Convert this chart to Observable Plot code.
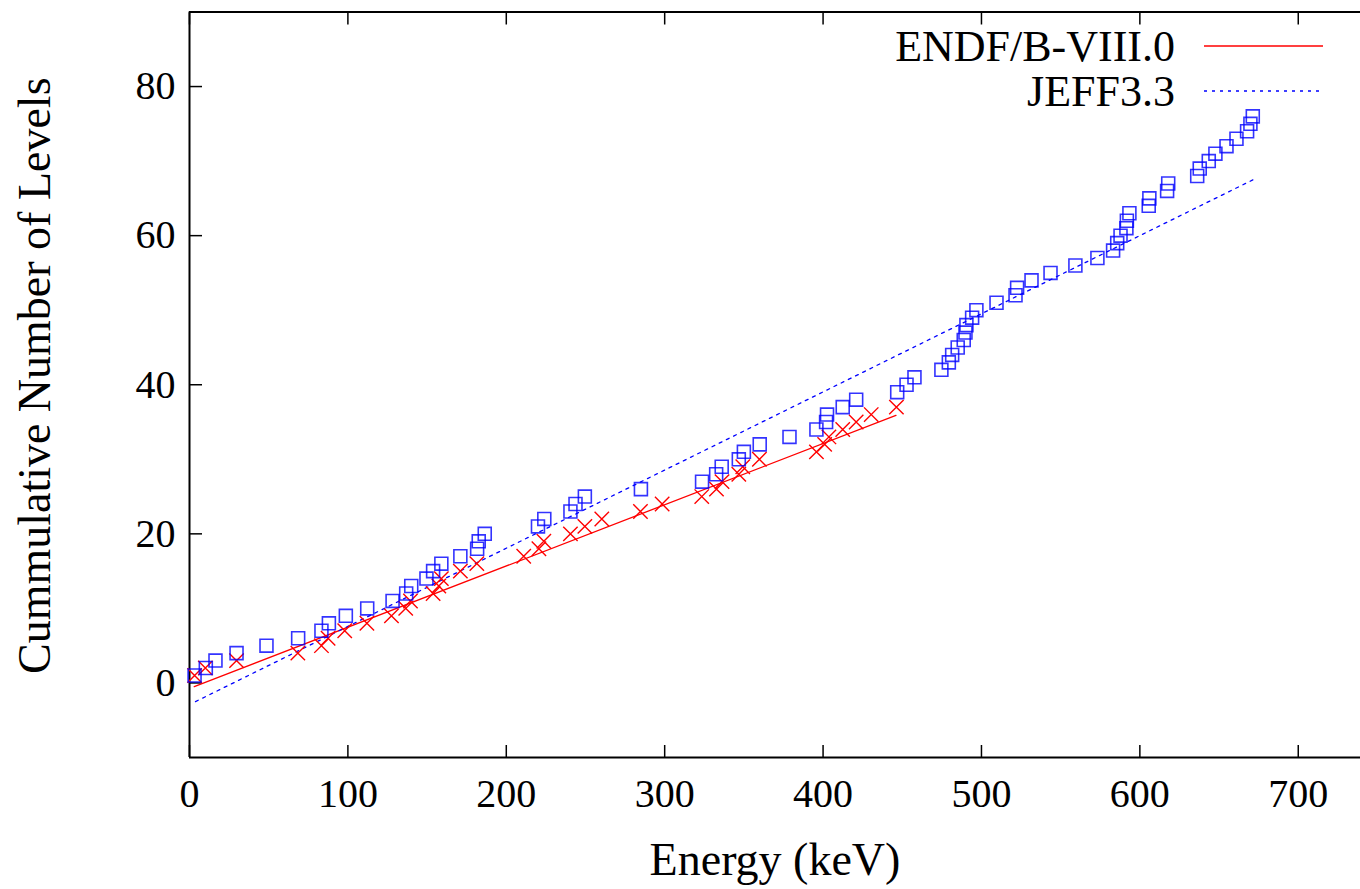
<!DOCTYPE html>
<html><head><meta charset="utf-8">
<script src="https://cdn.jsdelivr.net/npm/d3@7"></script>
<script src="https://cdn.jsdelivr.net/npm/@observablehq/plot@0.6"></script>
<style>
body{margin:0;background:#fff}
#wrap{position:relative;width:1360px;height:889px;overflow:hidden}
#wrap svg{display:block}
#legend{position:absolute;left:0;top:0}
</style>
</head><body><div id="wrap"></div>
<script>
// ENDF/B-VIII.0 resonance energies (keV) and cumulative counts
const endfE = [3.2, 10, 29.7, 68.4, 83.3, 87.5, 98, 112, 127.5, 136.5, 139.5, 153.8, 157.4, 159, 171, 181.4, 211, 220.6, 223.7, 240.5, 249.6, 260.3, 284.7, 298.4, 323.4, 332.7, 336.2, 346.8, 349.3, 359.8, 395.8, 401, 403.7, 412.4, 420.9, 430.4, 446.3];
const endfN = [1, 2, 3, 4, 5, 6, 7, 8, 9, 10, 11, 12, 13, 14, 15, 16, 17, 18, 19, 20, 21, 22, 23, 24, 25, 26, 27, 28, 29, 30, 31, 32, 33, 34, 35, 36, 37];
// JEFF3.3 resonance energies (keV) and cumulative counts
const jeffE = [3.2, 10.3, 16.4, 29.7, 48.6, 68.6, 83.3, 88, 98.7, 112.2, 128.2, 136.8, 140, 149.6, 153.8, 159, 171, 181.6, 182.6, 186.4, 220, 224, 240.5, 243.7, 249.6, 285, 323.6, 332.5, 336, 346.8, 350, 360, 378.8, 395.8, 401.9, 402.5, 412.4, 420.9, 446.8, 452.7, 457.7, 474.7, 479.4, 481.5, 485, 488.8, 489.9, 490.5, 494.1, 496.8, 509.5, 521.5, 522.5, 531.6, 543.6, 559.3, 573.2, 583.1, 585.7, 587.8, 591.5, 591.8, 593.4, 605.6, 606, 617.2, 617.9, 636.2, 637.8, 643.5, 647.7, 654.7, 661, 667.7, 669.8, 671.3];
const jeffN = [1, 2, 3, 4, 5, 6, 7, 8, 9, 10, 11, 12, 13, 14, 15, 16, 17, 18, 19, 20, 21, 22, 23, 24, 25, 26, 27, 28, 29, 30, 31, 32, 33, 34, 35, 36, 37, 38, 39, 40, 41, 42, 43, 44, 45, 46, 47, 48, 49, 50, 51, 52, 53, 54, 55, 56, 57, 58, 59, 60, 61, 62, 63, 64, 65, 66, 67, 68, 69, 70, 71, 72, 73, 74, 75, 76];
// linear fits (endpoints)
const endfFitE = [3, 446];
const endfFitN = [-0.5, 35.9];
const jeffFitE = [3.8, 671.5];
const jeffFitN = [-2.5, 67.5];
// ticks and labels
const xTicks = [0, 100, 200, 300, 400, 500, 600, 700];
const yTicks = [0, 20, 40, 60, 80];
const seriesNames = ["ENDF/B-VIII.0", "JEFF3.3"];
const xLabel = "Energy (keV)";
const yLabel = "Cummulative Number of Levels";

const endf = endfE.map((e, i) => ({e, n: endfN[i]}));
const jeff = jeffE.map((e, i) => ({e, n: jeffN[i]}));
const endfFit = endfFitE.map((e, i) => ({e, n: endfFitN[i]}));
const jeffFit = jeffFitE.map((e, i) => ({e, n: jeffFitN[i]}));

const RED = "#ff0000", BLUE = "#0000ff";
const font = "'Liberation Serif', 'DejaVu Serif', serif";

const chart = Plot.plot({
  width: 1360, height: 889,
  marginLeft: 189, marginRight: 0, marginTop: 11.5, marginBottom: 132,
  x: {domain: [0, 739.3]},
  y: {domain: [-10, 90]},
  style: {fontFamily: font, fontSize: "40px", background: "white", color: "black"},
  marks: [
    Plot.axisX(xTicks, {tickSize: -12, tickPadding: 33, strokeWidth: 1.5, label: null, fontSize: 40}),
    Plot.axisX(xTicks, {anchor: "top", tickSize: -12, tickFormat: () => "", strokeWidth: 1.5, label: null}),
    Plot.axisY(yTicks, {tickSize: -13, tickPadding: 27, strokeWidth: 1.5, label: null, fontSize: 40}),
    Plot.ruleY([-10, 90], {stroke: "black", strokeWidth: 2}),
    Plot.ruleX([0], {stroke: "black", strokeWidth: 2}),
    Plot.line(endfFit, {x: "e", y: "n", stroke: RED, strokeWidth: 1.3}),
    Plot.line(jeffFit, {x: "e", y: "n", stroke: BLUE, strokeWidth: 1.3, strokeDasharray: "3,5"}),
    Plot.dot(endf, {x: "e", y: "n", symbol: "times", r: 6.6, stroke: RED, strokeWidth: 1.4}),
    Plot.dot(jeff, {x: "e", y: "n", symbol: "square", r: 7.3, stroke: BLUE, strokeWidth: 1.6, strokeOpacity: 0.8, fill: "none"}),
    Plot.text([xLabel], {frameAnchor: "bottom", dy: 103, fontSize: 46, lineAnchor: "middle", textAnchor: "middle"}),
    Plot.text([yLabel], {frameAnchor: "left", dx: -154, dy: -9, rotate: -90, fontSize: 46, lineAnchor: "middle", textAnchor: "middle"})
  ]
});
const wrap = document.getElementById("wrap");
wrap.appendChild(chart);

// legend overlay
const leg = d3.select(wrap).append("svg").attr("id", "legend").attr("width", 1360).attr("height", 889)
  .style("font-family", font);
const rows = [
  {name: seriesNames[0], y: 46, stroke: RED, dash: null},
  {name: seriesNames[1], y: 91, stroke: BLUE, dash: "3,5"}
];
for (const r of rows) {
  leg.append("text").attr("x", 1175).attr("y", r.y).attr("dy", "0.35em").attr("text-anchor", "end")
    .attr("font-size", 44).attr("fill", "black").text(r.name);
  leg.append("line").attr("x1", 1204).attr("x2", 1323).attr("y1", r.y).attr("y2", r.y)
    .attr("stroke", r.stroke).attr("stroke-width", 1.3).attr("stroke-dasharray", r.dash);
}
</script>
</body></html>
